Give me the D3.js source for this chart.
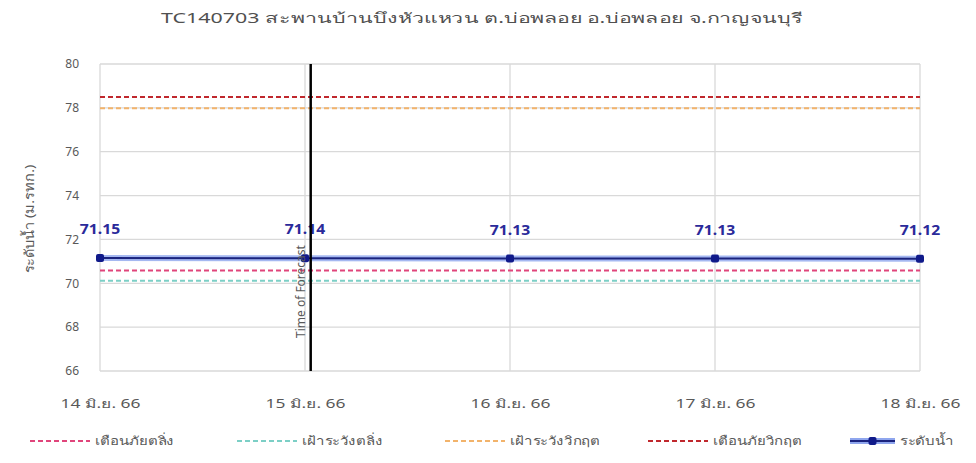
<!DOCTYPE html>
<html><head><meta charset="utf-8">
<script src="https://cdn.jsdelivr.net/npm/d3@7"></script>
<style>
body{margin:0;background:#fff;}
svg text{font-family:"Noto Sans","Liberation Sans",sans-serif;}
</style></head>
<body><svg id="c" width="976" height="463"></svg>
<script>
const title = "TC140703 สะพานบ้านบึงหัวแหวน ต.บ่อพลอย อ.บ่อพลอย จ.กาญจนบุรี";
const yTitle = "ระดับน้ำ (ม.รทก.)";
const dates = ["2023-06-14T00:00","2023-06-15T00:00","2023-06-16T00:00","2023-06-17T00:00","2023-06-18T00:00"];
const waterLevel = [71.15, 71.14, 71.13, 71.13, 71.12];
const xTickLabels = ["14 มิ.ย. 66","15 มิ.ย. 66","16 มิ.ย. 66","17 มิ.ย. 66","18 มิ.ย. 66"];
const yTicks = [66,68,70,72,74,76,78,80];
const refNames = ["เตือนภัยตลิ่ง","เฝ้าระวังตลิ่ง","เฝ้าระวังวิกฤต","เตือนภัยวิกฤต"];
const refValues = [70.58, 70.12, 77.98, 78.5];
const refColors = ["#e0457b","#7ccfc6","#f2b36b","#c0282d"];
const waterName = "ระดับน้ำ";
const forecastTime = "2023-06-15T00:40";
const forecastLabel = "Time of Forecast";

const svg = d3.select("#c");
const parse = d3.timeParse("%Y-%m-%dT%H:%M");
const dts = dates.map(parse);
const x = d3.scaleTime().domain([dts[0], dts[dts.length-1]]).range([100, 920]);
const y = d3.scaleLinear().domain([66, 80]).range([371, 64]);

function stretch(sel, f){
  sel.each(function(){
    const L = this.getComputedTextLength();
    d3.select(this).attr("textLength", L*f).attr("lengthAdjust","spacingAndGlyphs");
  });
}

// title
svg.append("text").attr("x", 482).attr("y", 23).attr("text-anchor","middle")
  .attr("font-size", 14).attr("fill","#505050")
  .attr("textLength", 642).attr("lengthAdjust","spacingAndGlyphs").text(title);

// grid
const g = svg.append("g");
g.selectAll(".hg").data(yTicks).join("line")
  .attr("x1", 100).attr("x2", 920).attr("y1", d=>y(d)).attr("y2", d=>y(d))
  .attr("stroke","#d9d9d9").attr("stroke-width",1.3);
g.selectAll(".vg").data(dts).join("line")
  .attr("x1", d=>x(d)).attr("x2", d=>x(d)).attr("y1", y(80)).attr("y2", y(66))
  .attr("stroke","#d9d9d9").attr("stroke-width",1.3);

// y axis labels
const yAxis = d3.axisLeft(y).tickValues(yTicks).tickSize(0).tickPadding(0);
const ya = svg.append("g").attr("transform","translate(79,0)").call(yAxis);
ya.select(".domain").remove();
ya.selectAll("text").attr("font-size",12).attr("fill","#595959");

// x axis labels
const xAxis = d3.axisBottom(x).tickValues(dts).tickSize(0).tickPadding(0)
  .tickFormat((d,i)=>xTickLabels[i]);
const xa = svg.append("g").attr("transform","translate(0,399)").call(xAxis);
xa.select(".domain").remove();
xa.selectAll("text").attr("font-size",12).attr("fill","#595959");
stretch(xa.selectAll("text"), 1.45);

// y title
const yt = svg.append("text").attr("transform","translate(34,219) rotate(-90)")
  .attr("text-anchor","middle").attr("font-size",13).attr("fill","#595959").text(yTitle);
stretch(yt, 1.12);

// reference dashed lines
refValues.forEach((v,i)=>{
  svg.append("line").attr("x1",100).attr("x2",920).attr("y1",y(v)).attr("y2",y(v))
    .attr("stroke",refColors[i]).attr("stroke-width",2).attr("stroke-dasharray","5,3");
});

// water level
const line = d3.line().x((d,i)=>x(dts[i])).y(d=>y(d));
svg.append("path").datum(waterLevel).attr("d",line).attr("fill","none")
  .attr("stroke","#8fa6ee").attr("stroke-width",6).attr("opacity",0.8);
svg.append("path").datum(waterLevel).attr("d",line).attr("fill","none")
  .attr("stroke","#1a237e").attr("stroke-width",2);
svg.selectAll(".pt").data(waterLevel).join("rect")
  .attr("x",(d,i)=>x(dts[i])-4).attr("y",d=>y(d)-4).attr("width",8).attr("height",8)
  .attr("rx",2).attr("fill","#101a8a");
const vl = svg.selectAll(".lbl").data(waterLevel).join("text")
  .attr("x",(d,i)=>x(dts[i])).attr("y",d=>y(d)-24).attr("text-anchor","middle")
  .attr("font-size",14).attr("font-weight","bold").attr("fill","#2a2a9a")
  .text(d=>d.toFixed(2));
stretch(vl, 1.12);

// forecast line
const ft = parse(forecastTime);
svg.append("line").attr("x1",x(ft)).attr("x2",x(ft)).attr("y1",y(80)).attr("y2",y(66))
  .attr("stroke","#000").attr("stroke-width",2.5);
svg.append("text").attr("transform",`translate(${x(ft)-6},338) rotate(-90)`)
  .attr("font-size",12).attr("fill","#595959").text(forecastLabel);

// legend
const legX = [30, 237, 445, 648, 850];
const lg = svg.append("g");
refNames.forEach((n,i)=>{
  lg.append("line").attr("x1",legX[i]).attr("x2",legX[i]+60).attr("y1",441).attr("y2",441)
    .attr("stroke",refColors[i]).attr("stroke-width",2).attr("stroke-dasharray","5,3");
  lg.append("text").attr("class","lt").attr("x",legX[i]+65).attr("y",445).attr("font-size",12).attr("fill","#595959").text(n);
});
lg.append("line").attr("x1",legX[4]).attr("x2",legX[4]+45).attr("y1",441).attr("y2",441)
  .attr("stroke","#8fa6ee").attr("stroke-width",6);
lg.append("line").attr("x1",legX[4]).attr("x2",legX[4]+45).attr("y1",441).attr("y2",441)
  .attr("stroke","#1a237e").attr("stroke-width",2);
lg.append("rect").attr("x",legX[4]+18.5).attr("y",437).attr("width",8).attr("height",8).attr("rx",2).attr("fill","#101a8a");
lg.append("text").attr("class","lt").attr("x",legX[4]+50).attr("y",445).attr("font-size",12).attr("fill","#595959").text(waterName);
stretch(lg.selectAll(".lt"), 1.25);
</script></body></html>
